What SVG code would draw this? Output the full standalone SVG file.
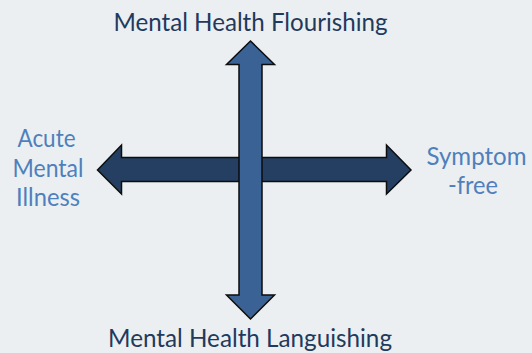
<svg xmlns="http://www.w3.org/2000/svg" width="532" height="353" viewBox="0 0 532 353">
  <style>
    .axis { stroke: #0d0d0d; stroke-width: 1.5; stroke-linejoin: miter; }
    .h-axis { fill: #243f61; }
    .v-axis { fill: #3a6294; }
    .pole { font-family: Lato, "Open Sans", "Liberation Sans", sans-serif; font-size: 25px; fill: #1f3a5d; text-anchor: middle; }
    .side { font-family: Lato, "Open Sans", "Liberation Sans", sans-serif; font-size: 25px; fill: #4f7fbc; text-anchor: middle; }
  </style>
  <rect width="532" height="353" fill="#ebeff1"/>

  <g id="connectors">
    <!-- horizontal double arrow: illness <-> symptom-free -->
    <polygon class="axis h-axis" points="97.5,170 121.5,145 121.5,157.5 386.5,157.5 386.5,145 411,170 386.5,194 386.5,181.5 121.5,181.5 121.5,194"/>
    <!-- vertical double arrow: flourishing <-> languishing -->
    <polygon class="axis v-axis" points="250.5,41 274.5,64.5 262,64.5 262,295 274.5,295 250.5,319 226.5,295 239,295 239,64.5 226.5,64.5"/>
  </g>

  <g id="node-flourishing">
    <text class="pole" x="250.5" y="31" textLength="274" lengthAdjust="spacingAndGlyphs">Mental Health Flourishing</text>
  </g>
  <g id="node-languishing">
    <text class="pole" x="250" y="347" textLength="284" lengthAdjust="spacingAndGlyphs">Mental Health Languishing</text>
  </g>
  <g id="node-acute">
    <text class="side" x="46.5" y="147" textLength="58" lengthAdjust="spacingAndGlyphs">Acute</text>
    <text class="side" x="48" y="177" textLength="71" lengthAdjust="spacingAndGlyphs">Mental</text>
    <text class="side" x="48" y="206" textLength="64" lengthAdjust="spacingAndGlyphs">Illness</text>
  </g>
  <g id="node-symptom-free">
    <text class="side" x="476.5" y="165" textLength="100" lengthAdjust="spacingAndGlyphs">Symptom</text>
    <text class="side" x="473" y="194" textLength="50" lengthAdjust="spacingAndGlyphs">-free</text>
  </g>
</svg>
